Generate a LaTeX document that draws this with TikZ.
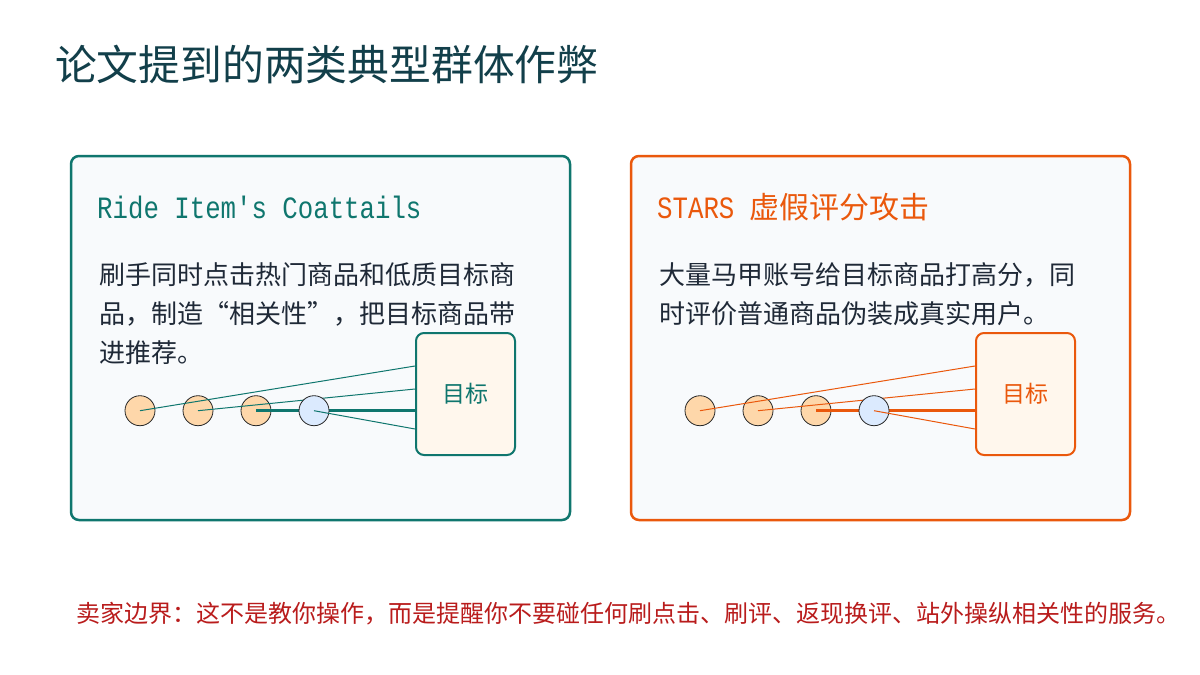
\documentclass[tikz,border=0pt]{standalone}
\usepackage{fontspec}
\setmainfont{Noto Sans CJK SC}
\newfontfamily\monolatin[FakeStretch=0.83,Ligatures=TeXOff]{Liberation Mono}

\definecolor{titlecol}{HTML}{123F4A}
\definecolor{ridecol}{HTML}{0F766E}
\definecolor{starscol}{HTML}{EA580C}
\definecolor{panelbg}{HTML}{F8FAFC}
\definecolor{targetbg}{HTML}{FFF7ED}
\definecolor{userorange}{HTML}{FED7AA}
\definecolor{userblue}{HTML}{DBEAFE}
\definecolor{bodytext}{HTML}{1F2937}
\definecolor{warnred}{HTML}{B91C1C}

\begin{document}
\begin{tikzpicture}[x=1pt,y=-1pt]
  \tikzstyle{panel} = [rounded corners=8pt,line width=2.5pt,fill=panelbg,minimum width=499pt,minimum height=364pt,inner sep=0pt]
  \tikzstyle{target} = [draw,rounded corners=8pt,line width=2pt,fill=targetbg,minimum width=99pt,minimum height=122pt,inner sep=0pt,font=\fontsize{23pt}{23pt}\selectfont]
  \tikzstyle{user} = [draw=black!85,circle,minimum size=30pt,inner sep=0pt,line width=0.8pt]
  \tikzstyle{body} = [anchor=base west,inner sep=0pt,text=bodytext,font=\fontsize{26pt}{26pt}\selectfont]

  \useasboundingbox[fill=white] (0,0) rectangle (1200,675);

  \node[anchor=base west,inner sep=0pt,text=titlecol,font=\fontsize{41.8pt}{42pt}\selectfont] (title) at (55,80) {论文提到的两类典型群体作弊};

  \foreach \p/\dx/\col in {L/0/ridecol, R/560/starscol} {
    \node[panel,draw=\col] (\p) at (320.5+\dx,338) {};
    \node[target,draw=\col,text=\col] (\p-tgt) at (465.5+\dx,394) {目标};
    \foreach \i/\x in {1/140, 2/198, 3/256} {
      \node[user,fill=userorange] (\p-\i) at (\x+\dx,410.7) {};
    }
    \draw[\col,line width=1pt] (\p-1.center) -- ([yshift=28pt]\p-tgt.west);
    \draw[\col,line width=1pt] (\p-2.center) -- ([yshift=5pt]\p-tgt.west);
    \draw[\col,line width=2.5pt] (\p-3.center) -- ([yshift=-16.7pt]\p-tgt.west);
    \node[user,fill=userblue] (\p-4) at (314+\dx,410.7) {};
    \draw[\col,line width=1pt] (\p-4.center) -- ([yshift=-35pt]\p-tgt.west);
  }

  \node[anchor=base west,inner sep=0pt,text=ridecol,font=\fontsize{31pt}{31pt}\monolatin] (L-head) at (97,218) {Ride Item's Coattails};
  \node[anchor=base west,inner sep=0pt,text=starscol,font=\fontsize{30pt}{30pt}\selectfont] (R-head) at (657,218) {{\fontsize{31pt}{31pt}\monolatin STARS }虚假评分攻击};

  \foreach \t [count=\k] in {刷手同时点击热门商品和低质目标商, 品，制造“相关性”，把目标商品带, 进推荐。} {
    \node[body] (L-line\k) at (99,245+39*\k) {\t};
  }
  \foreach \t [count=\k] in {大量马甲账号给目标商品打高分，同, 时评价普通商品伪装成真实用户。} {
    \node[body] (R-line\k) at (659,245+39*\k) {\t};
  }

  \node[anchor=base west,inner sep=0pt,text=warnred,font=\fontsize{24pt}{24pt}\selectfont] (note) at (76,622) {卖家边界：这不是教你操作，而是提醒你不要碰任何刷点击、刷评、返现换评、站外操纵相关性的服务。};
\end{tikzpicture}
\end{document}
